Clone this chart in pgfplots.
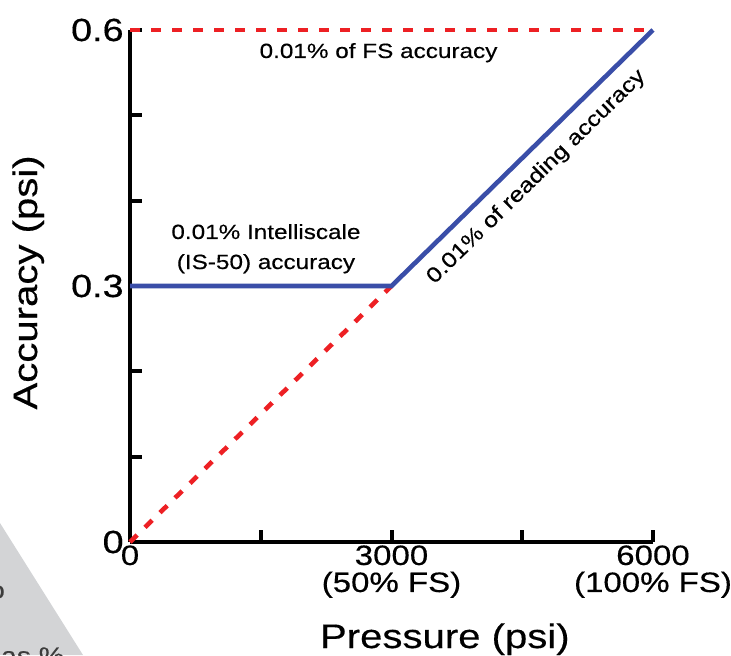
\documentclass[border=0pt]{standalone}
\usepackage{fontspec}
\setmainfont[FakeStretch=1.18, FakeBold=0.4]{Liberation Sans}
\usepackage{pgfplots}
\pgfplotsset{compat=1.18}
\definecolor{fsred}{RGB}{237,32,36}
\definecolor{isblue}{RGB}{58,78,168}
\definecolor{pagegray}{RGB}{211,212,214}
\definecolor{pagetext}{RGB}{60,60,60}

\begin{document}
\begin{tikzpicture}[x=1pt,y=1pt]
% corner of the page behind the chart
\begin{scope}
  \clip (-65,-56.5) rectangle (300.5,271);
  \fill[pagegray] (-65,9.5) -- (-23.5,-56.5) -- (-65,-56.5) -- cycle;
  \node[text=pagetext, font=\fontsize{12}{14}\selectfont] at (-66.5,-25) {o};
  \node[text=pagetext, font=\fontsize{12}{14}\selectfont, anchor=base west] at (-68,-61) {as \%};
\end{scope}

\begin{axis}[
  at={(0,0)}, anchor=south west,
  scale only axis, width=261.5pt, height=256pt,
  xmin=0, xmax=6000, ymin=0, ymax=0.6,
  axis x line*=bottom, axis y line*=left,
  axis line style={line width=2pt, black},
  tick align=inside, major tick length=6pt,
  every tick/.style={line width=2pt, black},
  xtick={0,1500,3000,4500,6000},
  xticklabels={0,,{3000\\(50\% FS)},,{6000\\(100\% FS)}},
  ytick={0,0.1,0.2,0.3,0.4,0.5,0.6},
  yticklabels={0,,,0.3,,,0.6},
  scaled x ticks=false,
  xticklabel style={align=center, inner sep=1.5pt, font=\fontsize{14}{13.5}\selectfont},
  yticklabel style={inner sep=3pt, font=\fontsize{16}{16}\selectfont},
  xlabel={Pressure (psi)}, ylabel={Accuracy (psi)},
  label style={font=\fontsize{17}{20}\selectfont},
  xlabel style={at={(axis description cs:0.602,-0.207)}, anchor=base},
  ylabel style={at={(axis description cs:-0.1778,0.507)}, anchor=base},
  clip=false,
]
  % full-scale accuracy and reading accuracy (dashed)
  \addplot[fsred, line width=2.3pt, dash pattern=on 5pt off 5.5pt]
    coordinates {(0,0.6) (6000,0.6)};
  \addplot[fsred, line width=2.3pt, dash pattern=on 5pt off 5.5pt]
    coordinates {(0,0) (3000,0.3)};
  % Intelliscale accuracy
  \addplot[isblue, line width=2.3pt]
    coordinates {(0,0.3) (3000,0.3) (6000,0.6)};

  \node[anchor=base, font=\fontsize{10.3}{12}\selectfont] at (axis cs:2851,0.5672) {0.01\% of FS accuracy};
  \node[anchor=base, font=\fontsize{10.3}{12}\selectfont] at (axis cs:1560,0.3551) {0.01\% Intelliscale};
  \node[anchor=base, font=\fontsize{10.3}{12}\selectfont] at (axis cs:1560,0.3199) {(IS-50) accuracy};
  \node[rotate=44.4, font=\fontsize{10.6}{12}\selectfont] at (axis cs:4663,0.4277) {0.01\% of reading accuracy};
\end{axis}
\pgfresetboundingbox
\useasboundingbox (-65,-56.5) rectangle (300.5,271);
\end{tikzpicture}
\end{document}
